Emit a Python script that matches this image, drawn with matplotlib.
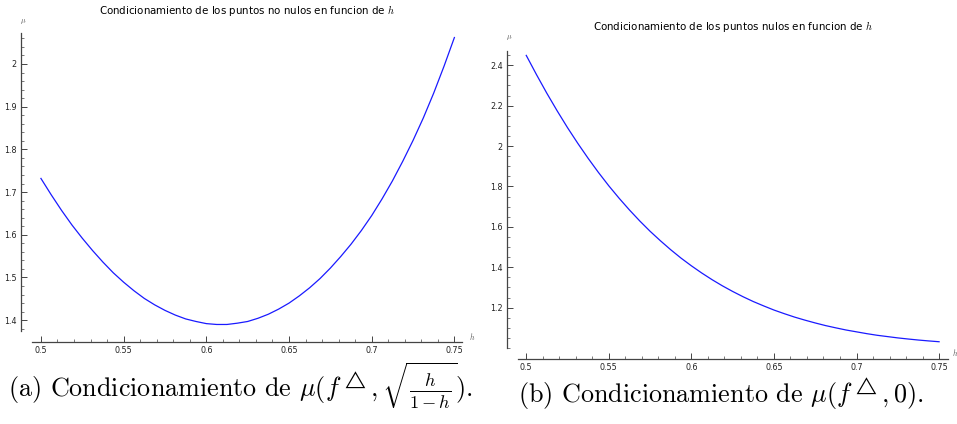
import numpy as np
import matplotlib
matplotlib.use("Agg")
import matplotlib.pyplot as plt
from matplotlib.ticker import MultipleLocator, FixedLocator, FuncFormatter

plt.rcParams['mathtext.fontset'] = 'cm'
plt.rcParams['font.family'] = ['DejaVu Sans']

# h values shared by both curves (step 0.00625)
h_vals = [0.5, 0.50625, 0.5125, 0.51875, 0.525, 0.53125, 0.5375, 0.54375,
          0.55, 0.55625, 0.5625, 0.56875, 0.575, 0.58125, 0.5875, 0.59375,
          0.6, 0.60625, 0.6125, 0.61875, 0.625, 0.63125, 0.6375, 0.64375,
          0.65, 0.65625, 0.6625, 0.66875, 0.675, 0.68125, 0.6875, 0.69375,
          0.7, 0.70625, 0.7125, 0.71875, 0.725, 0.73125, 0.7375, 0.74375, 0.75]

# (a) non-zero points
mu_nonzero = [1.732, 1.6935, 1.657, 1.623, 1.592, 1.563, 1.536, 1.511,
              1.489, 1.469, 1.451, 1.436, 1.423, 1.412, 1.403, 1.397,
              1.392, 1.390, 1.390, 1.393, 1.397, 1.4045, 1.414, 1.426,
              1.440, 1.457, 1.476, 1.4975, 1.522, 1.549, 1.578, 1.610,
              1.645, 1.684, 1.726, 1.772, 1.821, 1.874, 1.932, 1.995, 2.062]

# (b) zero points
mu_zero = [2.449, 2.353, 2.261, 2.174, 2.091, 2.013, 1.939, 1.869,
           1.803, 1.7415, 1.6835, 1.629, 1.578, 1.531, 1.4865, 1.445,
           1.407, 1.3715, 1.3385, 1.308, 1.280, 1.254, 1.230, 1.2085,
           1.188, 1.170, 1.153, 1.138, 1.124, 1.111, 1.0997, 1.089,
           1.080, 1.071, 1.063, 1.0565, 1.050, 1.0445, 1.0394, 1.035, 1.031]

titles = ['Condicionamiento de los puntos no nulos en funcion de $h$',
          'Condicionamiento de los puntos nulos en funcion de $h$']
captions = [r'(a) Condicionamiento de $\mu(f^{\triangle},\sqrt{\frac{h}{1-h}}).$',
            r'(b) Condicionamiento de $\mu(f^{\triangle},0).$']

W, H = 957, 424
fig = plt.figure(figsize=(W / 100, H / 100), dpi=100)


def px_axes(left, top, right, bottom):
    return fig.add_axes([left / W, 1 - bottom / H, (right - left) / W, (bottom - top) / H])


def sage_style(ax, xmajor, xminor, ymajor, yminor):
    for s in ['top', 'right']:
        ax.spines[s].set_visible(False)
    for s in ['left', 'bottom']:
        ax.spines[s].set_position(('outward', 8))
        ax.spines[s].set_color('#444444')
        ax.spines[s].set_linewidth(0.9)
    ax.xaxis.set_major_locator(MultipleLocator(xmajor))
    ax.xaxis.set_minor_locator(MultipleLocator(xminor))
    ax.yaxis.set_major_locator(ymajor)
    ax.yaxis.set_minor_locator(MultipleLocator(yminor))
    fmt = FuncFormatter(lambda v, p: '%g' % round(v, 4))
    ax.xaxis.set_major_formatter(fmt)
    ax.yaxis.set_major_formatter(fmt)
    ax.tick_params(which='major', direction='in', length=4, width=0.7,
                   color='#444444', labelsize=5.8, labelcolor='#222222', pad=3)
    ax.tick_params(which='minor', direction='in', length=2.2, width=0.5, color='#444444')


# left panel
ax1 = px_axes(32, 33, 462, 331)
ax1.plot(h_vals, mu_nonzero, color='#1a1aff', lw=0.9)
ax1.set_xlim(0.4946, 0.7546)
ax1.set_ylim(1.3747, 2.0726)
sage_style(ax1, 0.05, 0.01, MultipleLocator(0.1), 0.02)
fig.text(247 / W, 1 - 10 / H, titles[0], ha='center', va='center', fontsize=7.4)
fig.text(23 / W, 1 - 22 / H, r'$\mu$', ha='center', va='center', fontsize=5.5, color='#555555')
fig.text(472 / W, 1 - 336 / H, r'$h$', ha='center', va='center', fontsize=5.5, color='#555555')
fig.text(241 / W, 1 - 398 / H, captions[0], ha='center', va='baseline',
         fontsize=18.8, family='cmr10')

# right panel
ax2 = px_axes(518, 51, 948, 348)
ax2.plot(h_vals, mu_zero, color='#1a1aff', lw=0.9)
ax2.set_xlim(0.495, 0.7554)
ax2.set_ylim(1.0, 2.4708)
sage_style(ax2, 0.05, 0.01, FixedLocator([1.2, 1.4, 1.6, 1.8, 2.0, 2.2, 2.4]), 0.05)
fig.text(733 / W, 1 - 27 / H, titles[1], ha='center', va='center', fontsize=7.4)
fig.text(509 / W, 1 - 38 / H, r'$\mu$', ha='center', va='center', fontsize=5.5, color='#555555')
fig.text(955 / W, 1 - 352 / H, r'$h$', ha='center', va='center', fontsize=5.5, color='#555555')
fig.text(721 / W, 1 - 403 / H, captions[1], ha='center', va='baseline',
         fontsize=18.8, family='cmr10')

fig.savefig('out.png', dpi=100)
